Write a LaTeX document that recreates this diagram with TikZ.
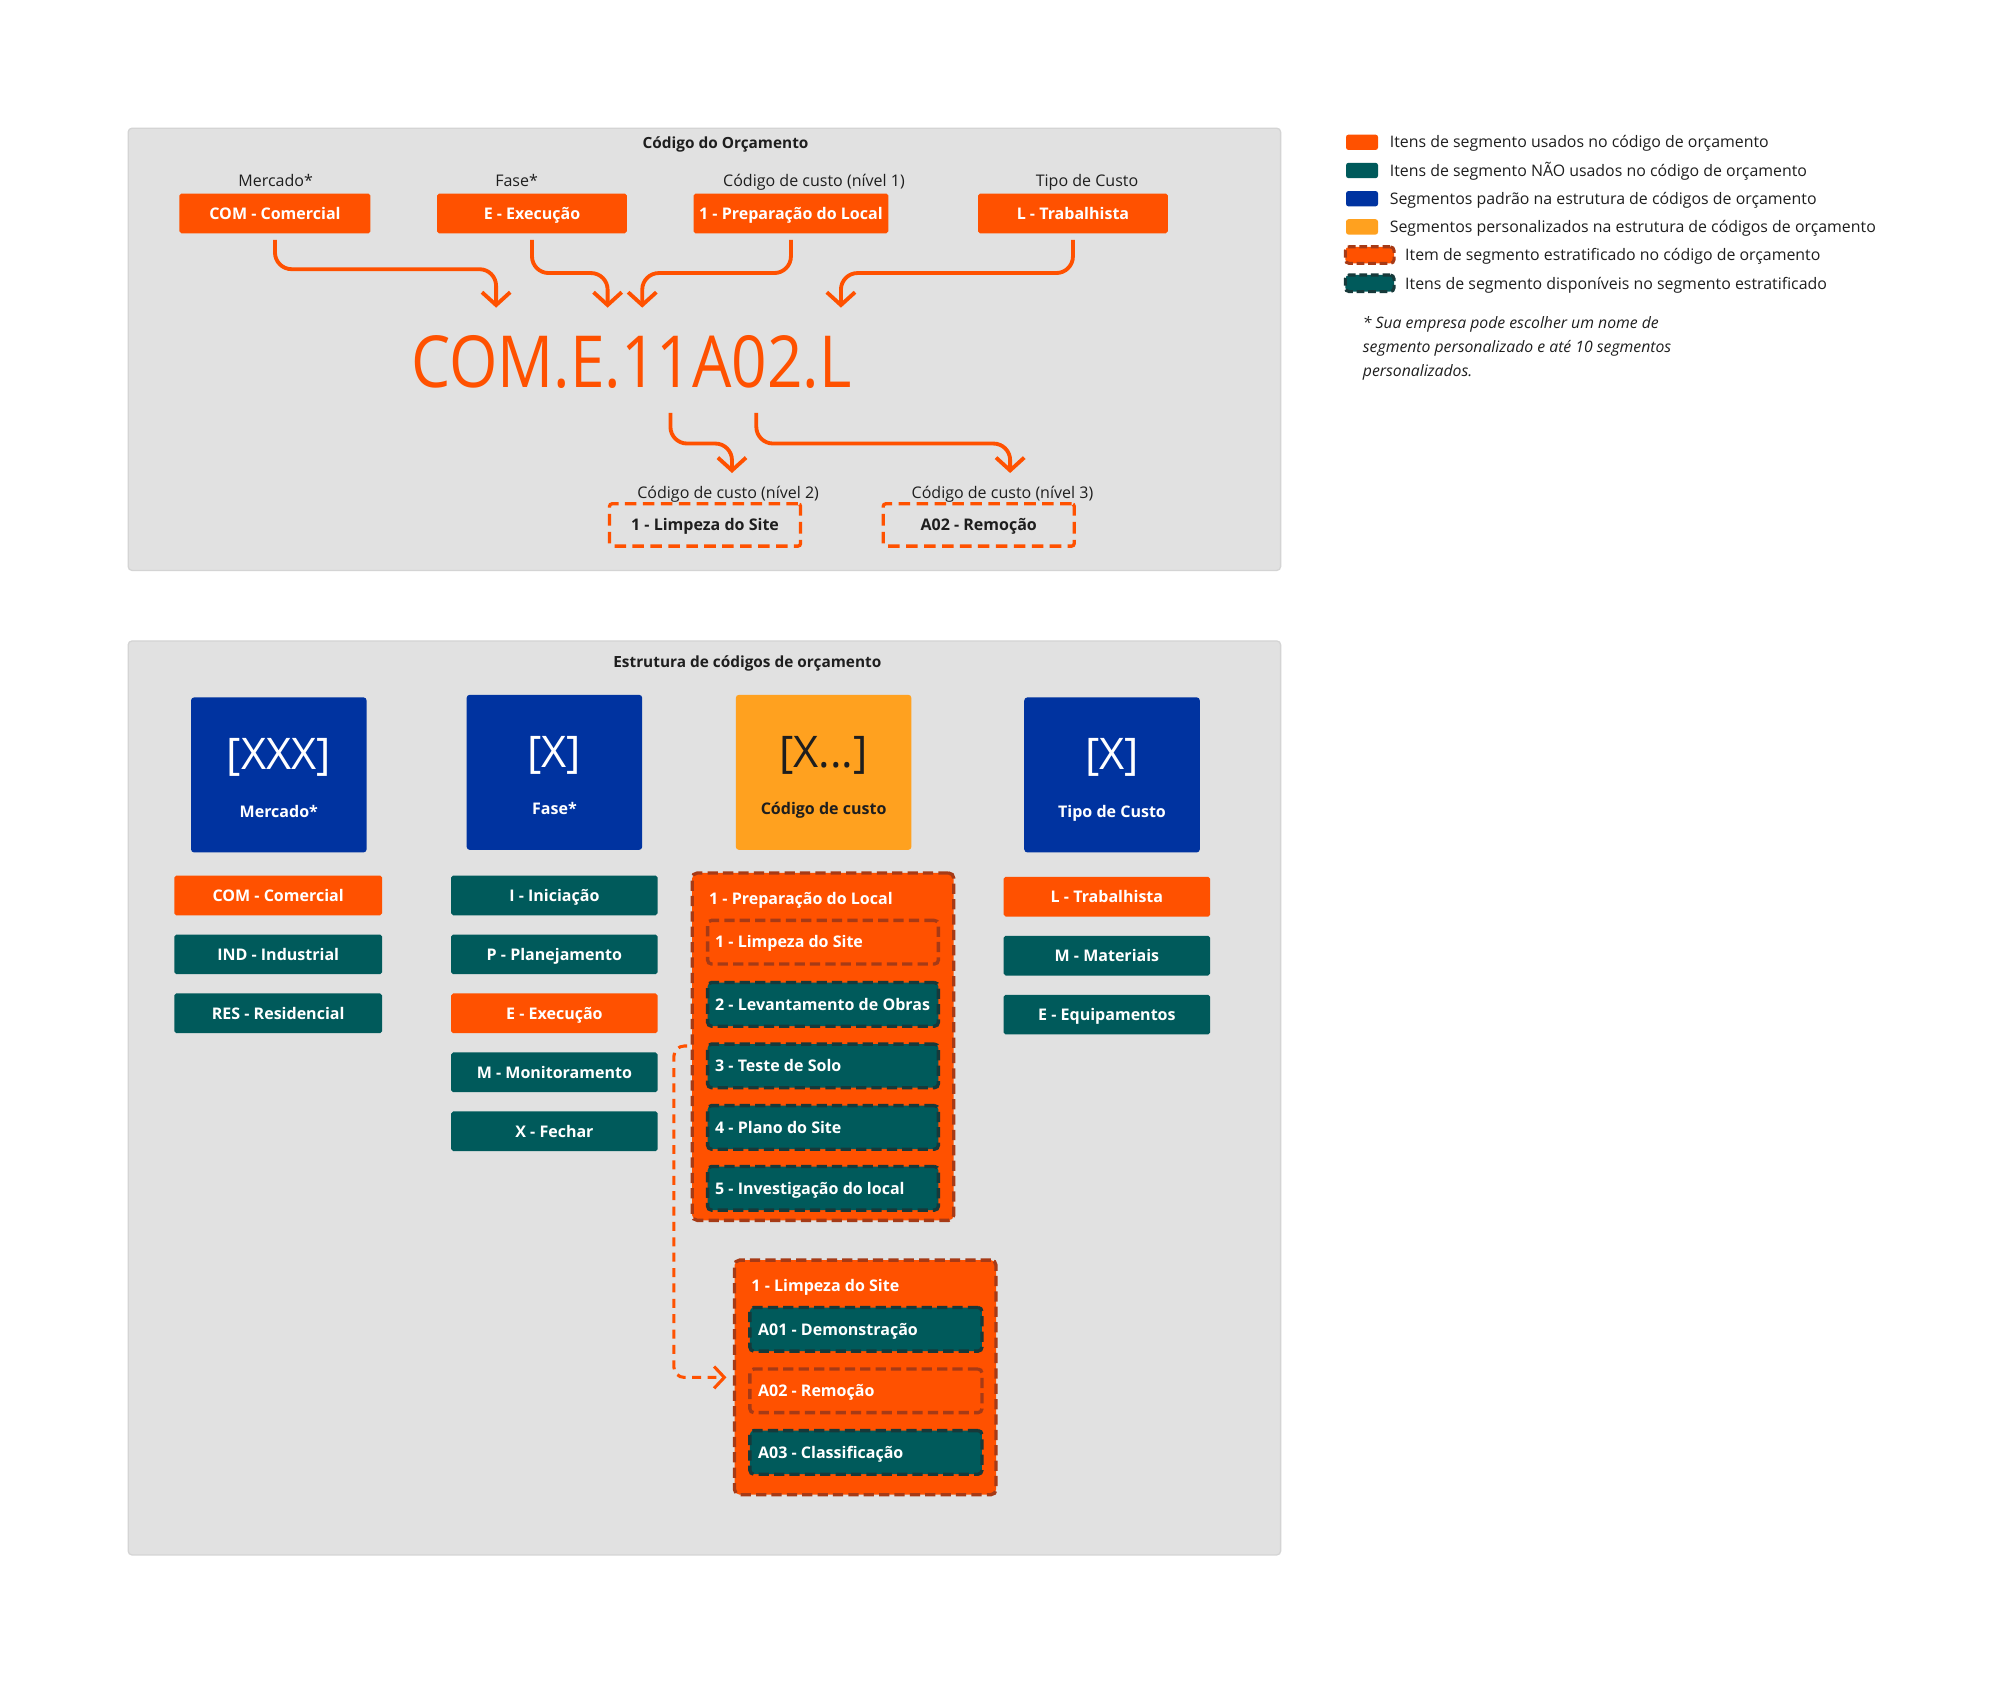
\documentclass[tikz,border=0pt]{standalone}
\usepackage{fontspec}
\setmainfont{Open Sans}
\usetikzlibrary{arrows.meta,calc}
\definecolor{orangeC}{HTML}{FF5100}
\definecolor{tealC}{HTML}{005A5B}
\definecolor{blueC}{HTML}{0033A0}
\definecolor{yellowC}{HTML}{FFA11F}
\definecolor{panelC}{HTML}{E1E1E1}
\definecolor{panelB}{HTML}{D4D4D4}
\definecolor{dashRed}{HTML}{A63A16}
\definecolor{dashTeal}{HTML}{17393A}
\definecolor{textC}{HTML}{1E1E1E}
\newcommand\myfs[1]{\fontsize{#1}{#1}\selectfont}
\begin{document}
\begin{tikzpicture}[x=1pt,y=-1pt,
  capc/.style={text height=#1, text depth=0pt},
  panel/.style={fill=panelC, draw=panelB, line width=1pt, rounded corners=3pt, inner sep=0pt},
  lab/.style={font=\myfs{12.5}, text=textC, inner sep=0pt, capc=9pt},
  ttl/.style={font=\bfseries\myfs{12}, text=textC, inner sep=0pt, capc=8.6pt},
  box/.style={rounded corners=1.5pt, inner sep=0pt, text=white, font=\bfseries\myfs{12.5}, capc=9pt},
  obox/.style={box, fill=orangeC},
  tbox/.style={box, fill=tealC},
  dbox/.style={box, draw=orangeC, line width=2.6pt, dash pattern=on 9pt off 5pt, text=textC, rounded corners=2pt},
  cont/.style={fill=orangeC, draw=dashRed, line width=2.6pt, dash pattern=on 8pt off 4pt, rounded corners=4pt, inner sep=0pt},
  itm/.style={line width=2.6pt, dash pattern=on 8pt off 4pt, rounded corners=3pt, inner sep=0pt, minimum height=34pt},
  sitem/.style={itm, fill=orangeC, draw=dashRed},
  titem/.style={itm, fill=tealC, draw=dashTeal},
  itxt/.style={text=white, font=\bfseries\myfs{12.5}, inner sep=0pt, anchor=west, capc=9pt},
  ctitle/.style={text=white, font=\bfseries\myfs{12.5}, inner sep=0pt, anchor=west, capc=9pt},
  sq/.style={rounded corners=2.5pt, inner sep=0pt, minimum width=137pt, minimum height=121pt},
  big/.style={font=\myfs{34}, inner sep=0pt, capc=24.3pt},
  sqlab/.style={font=\bfseries\myfs{12.5}, inner sep=0pt, capc=9pt},
  arr/.style={draw=orangeC, line width=3pt, rounded corners=13pt, -{Straight Barb[length=10pt,width=22pt]}},
  darr/.style={draw=orangeC, line width=2.4pt, dash pattern=on 7pt off 5pt, rounded corners=8pt, -{Straight Barb[length=8pt,width=17pt]}},
  sw/.style={rounded corners=2pt, inner sep=0pt, minimum width=25pt, minimum height=12pt},
  dsw/.style={rounded corners=3pt, inner sep=0pt, minimum width=38pt, minimum height=13pt, line width=2.4pt, dash pattern=on 6pt off 3pt},
  leg/.style={font=\myfs{12.4}, text=textC, inner sep=0pt, anchor=west, capc=8.9pt},
]
\useasboundingbox[fill=white] (0,0) rectangle (1568,1314.5);

% ---------- top panel ----------
\node[panel, minimum width=899pt, minimum height=345pt] (toppanel) at (549.5,272.5) {};
\node[ttl] (toptitle) at (566,111.5) {Código do Orçamento};

\node[lab] (lab1) at (215,141) {Mercado*};
\node[lab] (lab2) at (403,141) {Fase*};
\node[lab] (lab3) at (635,141) {Código de custo (nível 1)};
\node[lab] (lab4) at (848,141) {Tipo de Custo};

\node[obox, minimum width=149pt, minimum height=31pt] (t1) at (214.5,166.5) {COM - Comercial};
\node[obox, minimum width=148pt, minimum height=31pt] (t2) at (415,166.5) {E - Execução};
\node[obox, minimum width=152pt, minimum height=31pt] (t3) at (617,166.5) {1 - Preparação do Local};
\node[obox, minimum width=148pt, minimum height=31pt] (t4) at (837,166.5) {L - Trabalhista};

\node[text=orangeC, inner sep=0pt, font=\myfs{56}, capc=40pt] (code) at (492.5,282.5) {\scalebox{0.866}[1]{COM.E.11A02.L}};

\coordinate (a1) at (387,240);
\coordinate (a2) at (474,240);
\coordinate (a3) at (501,240);
\coordinate (a4) at (656,240);
\draw[arr] ([yshift=-5pt]t1.south) |- ($(a1)+(0,-30)$) -- (a1);
\draw[arr] ([yshift=-5pt]t2.south) |- ($(a2)+(0,-27)$) -- (a2);
\draw[arr] ([yshift=-5pt]t3.south) |- ($(a3)+(0,-27)$) -- (a3);
\draw[arr] ([yshift=-5pt]t4.south) |- ($(a4)+(0,-27)$) -- (a4);

\coordinate (s5) at (523,322);
\coordinate (s6) at (590,322);
\coordinate (b5) at (571,369);
\coordinate (b6) at (788,369);
\draw[arr] (s5) |- ($(b5)+(0,-23)$) -- (b5);
\draw[arr] (s6) |- ($(b6)+(0,-23)$) -- (b6);

\node[lab] (lab5) at (568,384) {Código de custo (nível 2)};
\node[lab] (lab6) at (782,384) {Código de custo (nível 3)};
\node[dbox, minimum width=149pt, minimum height=33pt] (d1) at (550,409.5) {1 - Limpeza do Site};
\node[dbox, minimum width=149pt, minimum height=33pt] (d2) at (763.5,409.5) {A02 - Remoção};

% ---------- bottom panel ----------
\node[panel, minimum width=899pt, minimum height=713pt] (botpanel) at (549.5,856.5) {};
\node[ttl] (bottitle) at (583,516.5) {Estrutura de códigos de orçamento};

\node[sq, fill=blueC] (q1) at (217.5,604.5) {};
\node[sq, fill=blueC] (q2) at (432.5,602.5) {};
\node[sq, fill=yellowC] (q3) at (642.5,602.5) {};
\node[sq, fill=blueC] (q4) at (867.5,604.5) {};
\node[big, text=white] (q1b) at ([yshift=16pt]q1.center) {[XXX]};
\node[big, text=white] (q2b) at ([yshift=16pt]q2.center) {[X]};
\node[big, text=textC] (q3b) at ([yshift=16pt]q3.center) {[X...]};
\node[big, text=white] (q4b) at ([yshift=16pt]q4.center) {[X]};
\node[sqlab, text=white] (q1l) at ([yshift=-28.5pt]q1.center) {Mercado*};
\node[sqlab, text=white] (q2l) at ([yshift=-28.5pt]q2.center) {Fase*};
\node[sqlab, text=textC] (q3l) at ([yshift=-28.5pt]q3.center) {Código de custo};
\node[sqlab, text=white] (q4l) at ([yshift=-28.5pt]q4.center) {Tipo de Custo};

% column 1
\node[obox, minimum width=162pt, minimum height=31pt] (c1a) at (217,698.5) {COM - Comercial};
\node[tbox, minimum width=162pt, minimum height=31pt] (c1b) at (217,744.5) {IND - Industrial};
\node[tbox, minimum width=162pt, minimum height=31pt] (c1c) at (217,790.5) {RES - Residencial};
% column 2
\node[tbox, minimum width=161pt, minimum height=31pt] (c2a) at (432.5,698.5) {I - Iniciação};
\node[tbox, minimum width=161pt, minimum height=31pt] (c2b) at (432.5,744.5) {P - Planejamento};
\node[obox, minimum width=161pt, minimum height=31pt] (c2c) at (432.5,790.5) {E - Execução};
\node[tbox, minimum width=161pt, minimum height=31pt] (c2d) at (432.5,836.5) {M - Monitoramento};
\node[tbox, minimum width=161pt, minimum height=31pt] (c2e) at (432.5,882.5) {X - Fechar};
% column 4
\node[obox, minimum width=161pt, minimum height=31pt] (c4a) at (863.5,699.5) {L - Trabalhista};
\node[tbox, minimum width=161pt, minimum height=31pt] (c4b) at (863.5,745.5) {M - Materiais};
\node[tbox, minimum width=161pt, minimum height=31pt] (c4c) at (863.5,791.5) {E - Equipamentos};

% column 3 container
\node[cont, minimum width=204pt, minimum height=271pt] (prep) at (642,816.5) {};
\node[ctitle] (prept) at (553,701) {1 - Preparação do Local};
\node[sitem, minimum width=180pt] (i1) at (642,735) {};
\node[titem, minimum width=180pt] (i2) at (642,783.5) {};
\node[titem, minimum width=180pt] (i3) at (642,831.5) {};
\node[titem, minimum width=180pt] (i4) at (642,879.5) {};
\node[titem, minimum width=180pt] (i5) at (642,927) {};
\node[itxt] (i1t) at ([xshift=7pt]i1.west) {1 - Limpeza do Site};
\node[itxt] (i2t) at ([xshift=7pt]i2.west) {2 - Levantamento de Obras};
\node[itxt] (i3t) at ([xshift=7pt]i3.west) {3 - Teste de Solo};
\node[itxt] (i4t) at ([xshift=7pt]i4.west) {4 - Plano do Site};
\node[itxt] (i5t) at ([xshift=7pt]i5.west) {5 - Investigação do local};

% second container
\node[cont, minimum width=204pt, minimum height=183pt] (limp) at (675,1074.5) {};
\node[ctitle] (limpt) at (586,1003) {1 - Limpeza do Site};
\node[titem, minimum width=181pt] (j1) at (675.5,1037) {};
\node[sitem, minimum width=181pt] (j2) at (675.5,1085) {};
\node[titem, minimum width=181pt] (j3) at (675.5,1133) {};
\node[itxt] (j1t) at ([xshift=7.5pt]j1.west) {A01 - Demonstração};
\node[itxt] (j2t) at ([xshift=7.5pt]j2.west) {A02 - Remoção};
\node[itxt] (j3t) at ([xshift=7.5pt]j3.west) {A03 - Classificação};

\coordinate (dstart) at (536,816);
\draw[darr] (dstart) -| ($(limp.west)+(-46,0)$) -- ([xshift=-5pt]limp.west);

% ---------- legend ----------
\node[sw, fill=orangeC] (k1) at (1062.5,111) {};
\node[sw, fill=tealC] (k2) at (1062.5,133) {};
\node[sw, fill=blueC] (k3) at (1062.5,155) {};
\node[sw, fill=yellowC] (k4) at (1062.5,177) {};
\node[dsw, fill=orangeC, draw=dashRed] (k5) at (1068.5,199) {};
\node[dsw, fill=tealC, draw=dashTeal] (k6) at (1068.5,221) {};
\node[leg] (k1t) at (1084,111) {Itens de segmento usados no código de orçamento};
\node[leg] (k2t) at (1084,133) {Itens de segmento NÃO usados no código de orçamento};
\node[leg] (k3t) at (1084,155) {Segmentos padrão na estrutura de códigos de orçamento};
\node[leg] (k4t) at (1084,177) {Segmentos personalizados na estrutura de códigos de orçamento};
\node[leg] (k5t) at (1096,199) {Item de segmento estratificado no código de orçamento};
\node[leg] (k6t) at (1096,221) {Itens de segmento disponíveis no segmento estratificado};

\node[anchor=north west, align=left, inner sep=0pt, text=textC, font=\itshape\fontsize{12.3}{18.7}\selectfont] (note) at (1063,247)
  {* Sua empresa pode escolher um nome de\\segmento personalizado e até 10 segmentos\\personalizados.};
\end{tikzpicture}
\end{document}
